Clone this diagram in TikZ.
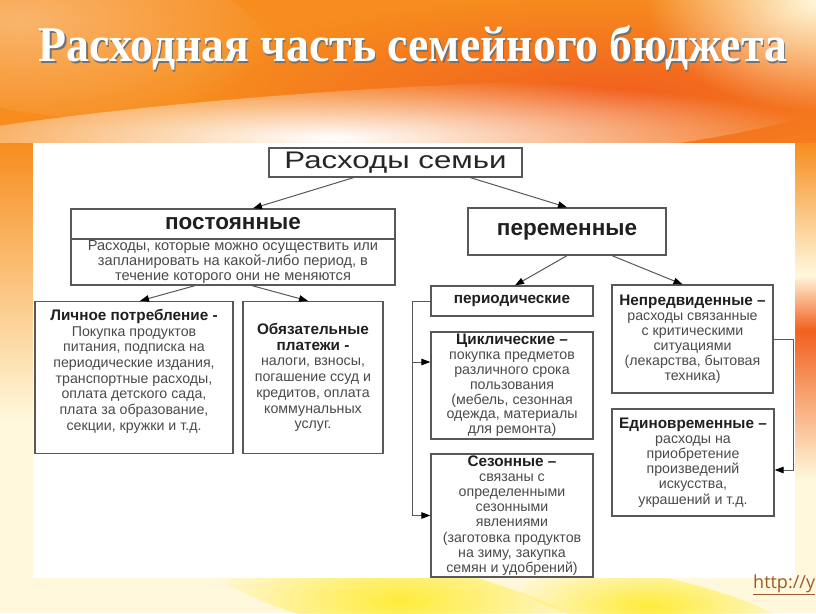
\documentclass[tikz,border=0pt]{standalone}
\usepackage{fontspec}
\setmainfont{Liberation Sans}
\newfontfamily\titlefont{Liberation Serif}
\newfontfamily\widefont{Liberation Sans}[FakeStretch=1.3]
\newfontfamily\urlfont{Open Sans}
\usetikzlibrary{arrows.meta, positioning, calc, fadings}
\definecolor{bgorange}{HTML}{F78D1E}
\definecolor{deeporange}{HTML}{F2601E}
\definecolor{paleyellow}{HTML}{FFF8DC}
\definecolor{sunyellow}{HTML}{FFEC3A}
\definecolor{boxgray}{HTML}{585858}
\definecolor{bodygray}{HTML}{4A4A4A}
\definecolor{urlbrown}{HTML}{9C5A2C}
\tikzfading[name=softBlob, inner color=transparent!0, outer color=transparent!100]
\tikzset{
  famBox/.style={draw=boxgray, line width=1.3pt, fill=white, align=center,
    inner sep=0pt, text=bodygray, font=\fontsize{14.2}{15.1}\selectfont},
  headBox/.style={famBox, text=black!88, font=\bfseries\fontsize{22.5}{24}\selectfont},
  arr/.style={draw=boxgray, line width=1pt, -{Triangle[length=9pt,width=6.5pt,black]}},
  blob/.style={path fading=softBlob},
}
\newcommand{\hd}[1]{\textcolor{black!88}{\bfseries\fontsize{15.3}{15.1}\selectfont #1}}
\begin{document}
\begin{tikzpicture}[x=1pt, y=-1pt]
\useasboundingbox (0,0) rectangle (816,613);
% backdrop
\fill[bgorange] (0,0) rectangle (816,613);
\fill[blob, deeporange] (610,95) ellipse (420 and 100);
\fill[blob, bgorange!65!white, rotate around={-10:(20,20)}] (20,20) ellipse (260 and 90);
\fill[blob, paleyellow] (816,0) ellipse (170 and 110);
\fill[blob, white, rotate around={4:(330,136)}] (330,136) ellipse (500 and 44);
% right band
\shade[top color=bgorange, bottom color=paleyellow] (795,143) rectangle (816,275);
\shade[top color=paleyellow, bottom color=deeporange] (795,275) rectangle (816,330);
\shade[top color=deeporange, bottom color=paleyellow] (795,330) rectangle (816,480);
\fill[paleyellow] (795,480) rectangle (816,613);
% left band and bottom
\shade[top color=bgorange, bottom color=paleyellow] (0,143) rectangle (33,420);
\fill[paleyellow] (0,420) rectangle (33,613);
\fill[paleyellow] (0,578) rectangle (816,613);
\fill[blob, sunyellow, rotate around={-12:(400,600)}] (400,600) ellipse (200 and 40);
\fill[blob, sunyellow, rotate around={-12:(650,605)}] (650,605) ellipse (150 and 30);

% title
\node[text=black!55, font=\titlefont\bfseries\fontsize{50}{54}\selectfont] (titleShadow) at (414.2,49.6)
  {\scalebox{0.915}[1]{Расходная часть семейного бюджета}};
\node[text=white, font=\titlefont\bfseries\fontsize{50}{54}\selectfont] (title) at (413,48)
  {\scalebox{0.915}[1]{Расходная часть семейного бюджета}};

% white panel
\fill[white] (33,143) rectangle (795,578);

% boxes
\node[famBox, minimum width=253pt, minimum height=29pt, text=black!85,
  font=\widefont\fontsize{24}{26}\selectfont] (family) at (395.5,162.5) {Расходы семьи};
\node[headBox, minimum width=324pt, minimum height=30pt] (constHead) at (233,224) {постоянные};
\node[famBox, minimum width=324pt, minimum height=46pt,
  font=\fontsize{14.6}{14.7}\selectfont] (constBody) at (233,262)
  {Расходы, которые можно осуществить или\\запланировать на какой-либо период, в\\течение которого они не меняются};
\node[headBox, minimum width=198pt, minimum height=47pt] (variable) at (567,231.5) {переменные};

\node[famBox, minimum width=198pt, minimum height=152pt, font=\fontsize{14.2}{15.7}\selectfont] (personal) at (134,377.5)
  {\hd{Личное потребление -}\\Покупка продуктов\\питания, подписка на\\периодические издания,\\транспортные расходы,\\оплата детского сада,\\плата за образование,\\секции, кружки и т.д.\\\mbox{}};
\node[famBox, minimum width=140pt, minimum height=152pt, font=\fontsize{14.2}{15.7}\selectfont] (mandatory) at (313,377.5)
  {\hd{Обязательные}\\\hd{платежи -}\\налоги, взносы,\\погашение ссуд и\\кредитов, оплата\\коммунальных\\услуг.};

\node[famBox, minimum width=162pt, minimum height=30pt] (periodic) at (512,301) {\hd{периодические}};
\node[famBox, minimum width=162pt, minimum height=107pt, font=\fontsize{14.2}{14.8}\selectfont] (cyclic) at (512,385.5)
  {\hd{Циклические –}\\покупка предметов\\различного срока\\пользования\\(мебель, сезонная\\одежда, материалы\\для ремонта)};
\node[famBox, minimum width=162pt, minimum height=123pt] (seasonal) at (512,515.5)
  {\hd{Сезонные –}\\связаны с\\определенными\\сезонными\\явлениями\\(заготовка продуктов\\на зиму, закупка\\семян и удобрений)};
\node[famBox, minimum width=161pt, minimum height=108pt] (unforeseen) at (692.5,339)
  {\hd{Непредвиденные –}\\расходы связанные\\с критическими\\ситуациями\\(лекарства, бытовая\\техника)};
\node[famBox, minimum width=162pt, minimum height=107pt] (oneoff) at (693,462.5)
  {\hd{Единовременные –}\\расходы на\\приобретение\\произведений\\искусства,\\украшений и т.д.};

% arrows
\draw[arr] ([xshift=-42pt]family.south) -- ([xshift=20pt]constHead.north);
\draw[arr] ([xshift=75pt]family.south) -- (variable.north);
\draw[arr] ([xshift=-38pt]constBody.south) -- ([xshift=6pt]personal.north);
\draw[arr] ([xshift=19pt]constBody.south) -- ([xshift=-5pt]mandatory.north);
\draw[arr] (variable.south) -- ([xshift=3pt]periodic.north);
\draw[arr] ([xshift=45pt]variable.south) -- ([xshift=-10pt]unforeseen.north);

% brackets
\coordinate (leftRail) at (412,301);
\draw[arr] (periodic.west) -- (leftRail) |- (seasonal.west);
\draw[arr] (leftRail |- 0,362) -- (cyclic.west |- 0,362);
\coordinate (rightRail) at (793,339);
\draw[arr] (unforeseen.east) -- (rightRail) |- ([yshift=-7.5pt]oneoff.east);

% source
\begin{scope}
\clip (0,0) rectangle (816,613);
\node[anchor=base west, text=urlbrown, font=\urlfont\fontsize{18}{20}\selectfont, inner sep=0pt] (source) at (753,588)
  {\underline{http://y}};
\end{scope}
\end{tikzpicture}
\end{document}
